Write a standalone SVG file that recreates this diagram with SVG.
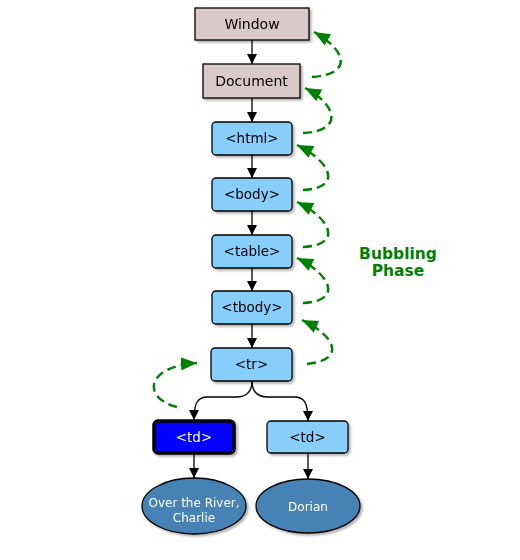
<svg xmlns="http://www.w3.org/2000/svg" width="520" height="560" viewBox="0 0 520 560">
<style>
  .box rect { stroke: #000; stroke-width: 1.3; }
  .win rect { fill: #dbc8c8; }
  .elem rect { fill: #87cefa; }
  .sel rect { fill: #0000ff; stroke-width: 3.5; }
  .leaf ellipse { fill: #4682b4; stroke: #000; stroke-width: 1.3; }
  text { font-family: "DejaVu Sans", Verdana, sans-serif; text-anchor: middle; }
  .lbl { font-size: 13.5px; fill: #000; }
  .big { font-size: 14px; }
  .wt { fill: #fff; }
  .small { font-size: 12px; fill: #fff; }
  .edge { fill: none; stroke: #000; stroke-width: 1.3; }
  .bub { fill: none; stroke: #008000; stroke-width: 2.4; stroke-dasharray: 9 5; }
  .phase { font-size: 15.5px; font-weight: bold; fill: #008000; }
</style>
<defs>
  <filter id="sh" x="-20%" y="-20%" width="140%" height="150%">
    <feDropShadow dx="2" dy="2" stdDeviation="1.2" flood-color="#000" flood-opacity="0.3"/>
  </filter>
  <marker id="ah" viewBox="0 0 10 10" refX="10" refY="5" markerWidth="10" markerHeight="10" markerUnits="userSpaceOnUse" orient="auto">
    <path d="M0,0 L10,5 L0,10 Z" fill="#000"/>
  </marker>
  <marker id="gh" viewBox="0 0 16 13" refX="16" refY="6.5" markerWidth="16" markerHeight="13" markerUnits="userSpaceOnUse" orient="auto">
    <path d="M0,0 L16,6.5 L0,13 Z" fill="#008000"/>
  </marker>
</defs>

<g id="connectors">
  <path class="edge" d="M252,40 L252,64" marker-end="url(#ah)"/>
  <path class="edge" d="M252,98 L252,122" marker-end="url(#ah)"/>
  <path class="edge" d="M252,155 L252,178" marker-end="url(#ah)"/>
  <path class="edge" d="M252,211 L252,235" marker-end="url(#ah)"/>
  <path class="edge" d="M252,268 L252,291" marker-end="url(#ah)"/>
  <path class="edge" d="M252,324 L252,348" marker-end="url(#ah)"/>
  <path class="edge" d="M252,381 C252,393 246,397 236,397 L208,397 C198,397 194,402 194,420" marker-end="url(#ah)"/>
  <path class="edge" d="M252,381 C252,393 258,397 268,397 L294,397 C304,397 308,402 308,421" marker-end="url(#ah)"/>
  <path class="edge" d="M194,454 L194,478" marker-end="url(#ah)"/>
  <path class="edge" d="M308,453 L308,479" marker-end="url(#ah)"/>
</g>

<g id="bubbling">
  <path class="bub" d="M312,77 C354,74 346,50 314,32" marker-end="url(#gh)"/>
  <path class="bub" d="M303,133 C345,131 336,104 305,88" marker-end="url(#gh)"/>
  <path class="bub" d="M303,190 C344,188 330,161 297,145" marker-end="url(#gh)"/>
  <path class="bub" d="M303,247 C344,245 330,218 297,202" marker-end="url(#gh)"/>
  <path class="bub" d="M303,303 C344,301 330,274 297,258" marker-end="url(#gh)"/>
  <path class="bub" d="M307,364 C346,360 336,336 302,320" marker-end="url(#gh)"/>
  <path class="bub" d="M177,407 C141,398 146,366 197,363" marker-end="url(#gh)"/>
  <text class="phase" x="398" y="259">Bubbling</text>
  <text class="phase" x="398" y="275.5">Phase</text>
</g>

<g id="window" class="box win" filter="url(#sh)">
  <rect x="195" y="8" width="114" height="32"/>
  <text class="lbl big" x="252" y="29">Window</text>
</g>
<g id="document" class="box win" filter="url(#sh)">
  <rect x="203" y="64" width="97" height="34"/>
  <text class="lbl big" x="251.5" y="86">Document</text>
</g>
<g id="html" class="box elem" filter="url(#sh)">
  <rect x="212" y="122" width="80" height="33" rx="4"/>
  <text class="lbl" x="252" y="143">&lt;html&gt;</text>
</g>
<g id="body" class="box elem" filter="url(#sh)">
  <rect x="212" y="178" width="80" height="33" rx="4"/>
  <text class="lbl" x="252" y="199">&lt;body&gt;</text>
</g>
<g id="table" class="box elem" filter="url(#sh)">
  <rect x="212" y="235" width="80" height="33" rx="4"/>
  <text class="lbl" x="252" y="256">&lt;table&gt;</text>
</g>
<g id="tbody" class="box elem" filter="url(#sh)">
  <rect x="212" y="291" width="80" height="33" rx="4"/>
  <text class="lbl" x="252" y="312">&lt;tbody&gt;</text>
</g>
<g id="tr" class="box elem" filter="url(#sh)">
  <rect x="211" y="348" width="81" height="33" rx="4"/>
  <text class="lbl" x="251.5" y="369">&lt;tr&gt;</text>
</g>
<g id="td1" class="box sel" filter="url(#sh)">
  <rect x="154" y="421" width="80" height="32" rx="4"/>
  <text class="lbl wt" x="194" y="442">&lt;td&gt;</text>
</g>
<g id="td2" class="box elem" filter="url(#sh)">
  <rect x="267" y="421" width="81" height="32" rx="4"/>
  <text class="lbl" x="307.5" y="442">&lt;td&gt;</text>
</g>
<g id="text1" class="leaf" filter="url(#sh)">
  <ellipse cx="194" cy="506" rx="52" ry="28"/>
  <text class="small" x="194" y="506.5">Over the River,</text>
  <text class="small" x="194" y="521.5">Charlie</text>
</g>
<g id="text2" class="leaf" filter="url(#sh)">
  <ellipse cx="308" cy="506" rx="52" ry="27"/>
  <text class="small" x="308" y="511">Dorian</text>
</g>
</svg>
